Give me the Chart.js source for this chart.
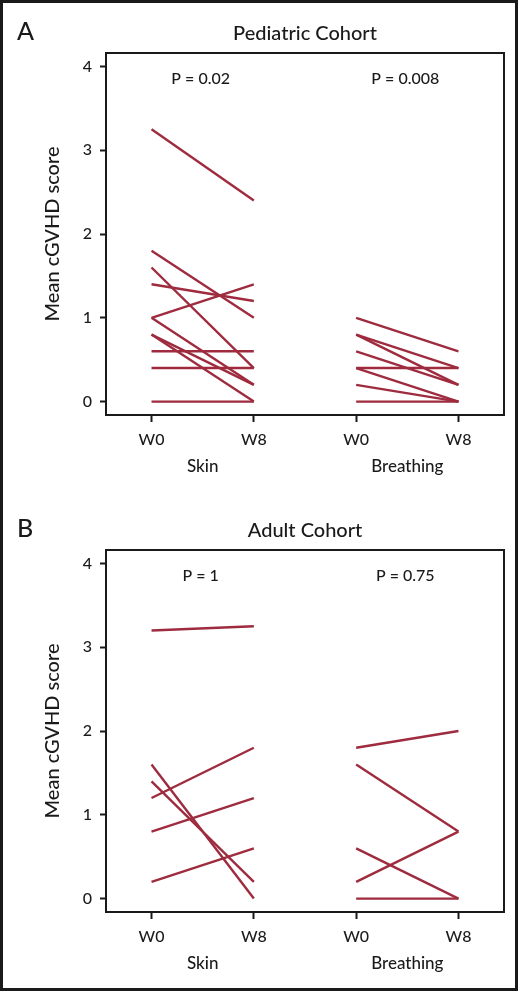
<!DOCTYPE html>
<html><head><meta charset="utf-8">
<script src="https://cdn.jsdelivr.net/npm/chart.js@4.4.1/dist/chart.umd.min.js"></script>
<style>
html,body{margin:0;padding:0;background:#fff;}
#wrap{position:relative;width:520px;height:991px;overflow:hidden;}
.panel{position:absolute;left:0;width:520px;height:497px;}
#frame{position:absolute;left:0;top:0;width:518px;height:991px;box-sizing:border-box;border:3px solid #1a1a1a;pointer-events:none;}
</style></head><body>
<div id="wrap">
<div class="panel" style="top:0"><canvas id="cA" width="520" height="497"></canvas></div>
<div class="panel" style="top:497px"><canvas id="cB" width="520" height="497"></canvas></div>
<div id="frame"></div>
</div>
<script>
// ---- data ----
const timepoints = ['W0', 'W8', 'W0', 'W8'];
const domains = ['Skin', 'Breathing'];
const yTicks = [0, 1, 2, 3, 4];
const yTitle = 'Mean cGVHD score';

const panelLetters = ['A', 'B'];
const panelTitles = ['Pediatric Cohort', 'Adult Cohort'];
const pedPValues = ['P = 0.02', 'P = 0.008'];
const adultPValues = ['P = 1', 'P = 0.75'];

const pedSkinW0 = [3.25, 1.8, 1.6, 1.4, 1.0, 1.0, 0.8, 0.8, 0.6, 0.4, 0];
const pedSkinW8 = [2.4, 1.0, 0.4, 1.2, 1.4, 0.2, 0.2, 0, 0.6, 0.4, 0];
const pedBreathW0 = [1.0, 0.8, 0.8, 0.6, 0.4, 0.4, 0.2, 0];
const pedBreathW8 = [0.6, 0.4, 0.2, 0.2, 0.4, 0, 0, 0];

const adultSkinW0 = [3.2, 1.6, 1.4, 1.2, 0.8, 0.2];
const adultSkinW8 = [3.25, 0, 0.2, 1.8, 1.2, 0.6];
const adultBreathW0 = [1.8, 1.6, 0.6, 0.2, 0];
const adultBreathW8 = [2.0, 0.8, 0, 0.8, 0];

// ---- styling ----
const LINE = '#9e2b3e';
const INK = '#1a1a1a';
const FONT = 'Lato, "Open Sans", sans-serif';
const W = '500 ';

function pairs(w0, w8, xStart) {
  return w0.map((v, i) => ({
    data: [{x: xStart, y: v}, {x: xStart + 1, y: w8[i]}],
    borderColor: LINE, backgroundColor: LINE, borderWidth: 2.4,
    pointRadius: 0, showLine: true, fill: false, tension: 0
  }));
}

const textPlugin = {
  id: 'panelText',
  afterDraw(chart, args, opts) {
    const ctx = chart.ctx, ca = chart.chartArea;
    const xs = chart.scales.x;
    ctx.save();
    ctx.strokeStyle = INK; ctx.lineWidth = 2;
    ctx.strokeRect(ca.left, ca.top, ca.right - ca.left, ca.bottom - ca.top);
    ctx.fillStyle = INK;
    ctx.font = W + '25px ' + FONT; ctx.textAlign = 'left'; ctx.textBaseline = 'middle';
    ctx.fillText(opts.letter, 17, 32);
    ctx.font = W + '20px ' + FONT; ctx.textAlign = 'center';
    ctx.fillText(opts.title, 305, 34);
    ctx.font = W + '16px ' + FONT;
    ctx.fillText(opts.p[0], xs.getPixelForValue(0.5) - 2, ca.top + 26);
    ctx.fillText(opts.p[1], xs.getPixelForValue(2.5) - 2, ca.top + 26);
    ctx.font = W + '17px ' + FONT;
    ctx.fillText(domains[0], xs.getPixelForValue(0.5), ca.bottom + 52);
    ctx.fillText(domains[1], xs.getPixelForValue(2.5), ca.bottom + 52);
    ctx.translate(53, (ca.top + ca.bottom) / 2);
    ctx.rotate(-Math.PI / 2);
    ctx.font = W + '20px ' + FONT;
    ctx.fillText(yTitle, 0, 0);
    ctx.restore();
  }
};

function makeChart(id, datasets, letter, title, p) {
  return new Chart(document.getElementById(id), {
    type: 'scatter',
    data: {datasets},
    plugins: [textPlugin],
    options: {
      responsive: false, animation: false, devicePixelRatio: 1,
      layout: {padding: {top: 53, right: 16, left: 0, bottom: 0}},
      plugins: {legend: {display: false}, tooltip: {enabled: false},
        panelText: {letter, title, p}},
      scales: {
        x: {
          type: 'linear', min: -0.445, max: 3.445,
          afterBuildTicks: s => { s.ticks = timepoints.map((t, i) => ({value: i})); },
          afterFit: s => { s.height = 82; },
          ticks: {callback: v => timepoints[v], color: INK, font: {family: FONT, size: 16, weight: 500},
            padding: 8, autoSkip: false, maxRotation: 0},
          grid: {display: true, drawOnChartArea: false, drawTicks: true, tickLength: 7,
            tickColor: INK, tickWidth: 2, color: INK},
          border: {display: true, color: INK, width: 2}
        },
        y: {
          type: 'linear', min: -0.16, max: 4.16,
          afterBuildTicks: s => { s.ticks = yTicks.map(v => ({value: v})); },
          afterFit: s => { s.width = 106; },
          ticks: {color: INK, font: {family: FONT, size: 16, weight: 500}, padding: 8},
          grid: {display: true, drawOnChartArea: false, drawTicks: true, tickLength: 6,
            tickColor: INK, tickWidth: 2, color: INK},
          border: {display: true, color: INK, width: 2}
        }
      }
    }
  });
}

makeChart('cA', pairs(pedSkinW0, pedSkinW8, 0).concat(pairs(pedBreathW0, pedBreathW8, 2)),
  panelLetters[0], panelTitles[0], pedPValues);
makeChart('cB', pairs(adultSkinW0, adultSkinW8, 0).concat(pairs(adultBreathW0, adultBreathW8, 2)),
  panelLetters[1], panelTitles[1], adultPValues);
</script>
</body></html>
